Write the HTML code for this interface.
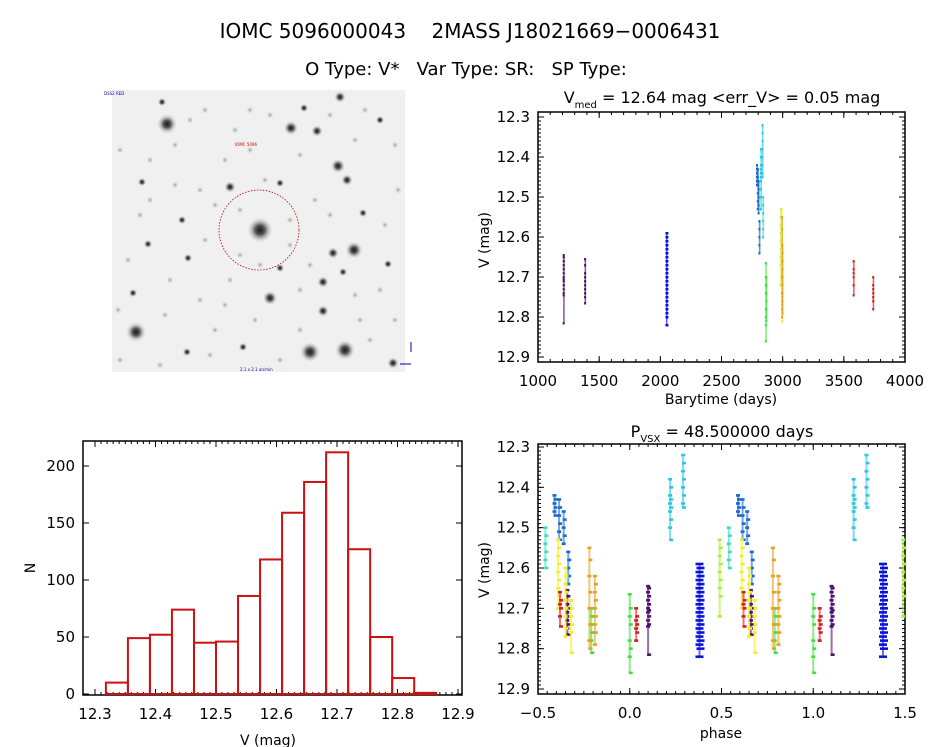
<!DOCTYPE html>
<html><head><meta charset="utf-8">
<style>
body{margin:0;background:#fff;}
svg{display:block;font-family:"DejaVu Sans","Liberation Sans",sans-serif;}
text{white-space:pre;}
</style></head>
<body>
<svg id="fig" width="944" height="747" viewBox="0 0 944 747">
<text x="470" y="38" text-anchor="middle" font-size="20" xml:space="preserve">IOMC 5096000043    2MASS J18021669−0006431</text>
<text x="466" y="75" text-anchor="middle" font-size="18" xml:space="preserve">O Type: V*   Var Type: SR:   SP Type:</text>
<g id="img"></g>
<g id="lc"></g>
<g id="hist"></g>
<g id="ph"></g>
</svg>
<script>
// ---------- data ----------
const histEdges0 = 12.318;
const histBinWidth = 0.0364;
const histCounts = [10,49,52,74,45,46,86,118,159,186,212,127,50,14,1];
const histXTicks = [12.3,12.4,12.5,12.6,12.7,12.8,12.9];
const histYTicks = [0,50,100,150,200];
const lcXTicks = [1000,1500,2000,2500,3000,3500,4000];
const magTicks = [12.3,12.4,12.5,12.6,12.7,12.8,12.9];
const phTicks = [-0.5,0.0,0.5,1.0,1.5];
const groupTimes = [1210,1385,2050,2790,2797,2803,2810,2822,2835,2840,2862,2866,2985,2990,2993,2996,2995,2998,3580,3740];
const groupPhases = [0.10,-0.34,0.38,-0.41,-0.385,-0.36,-0.335,0.22,0.29,-0.46,0.0,-0.21,0.49,-0.39,-0.35,-0.32,-0.22,-0.19,-0.38,0.035];
const groupColors = ['#50106e','#50106e','#0a14d8','#1a6ad0','#1a6ad0','#1a6ad0','#1a6ad0','#28c8e8','#28c8e8','#30e0c0','#40e040','#40e040','#a8f030','#f0f020','#f0f020','#f0f020','#e8a020','#e8a020','#d82020','#d82020'];
const groupMags = [
 [12.645,12.65,12.66,12.67,12.68,12.69,12.70,12.705,12.71,12.72,12.73,12.74,12.745,12.815],
 [12.655,12.67,12.69,12.70,12.71,12.72,12.73,12.74,12.75,12.765],
 [12.59,12.60,12.61,12.62,12.63,12.64,12.65,12.66,12.67,12.68,12.69,12.70,12.71,12.72,12.73,12.74,12.75,12.76,12.77,12.78,12.79,12.80,12.82],
 [12.42,12.43,12.44,12.45,12.46,12.47],
 [12.43,12.45,12.47,12.49,12.51,12.53],
 [12.46,12.48,12.50,12.52,12.54],
 [12.56,12.58,12.60,12.62,12.64],
 [12.38,12.40,12.42,12.43,12.44,12.45,12.46,12.48,12.50,12.53],
 [12.32,12.34,12.36,12.38,12.40,12.42,12.44,12.45],
 [12.50,12.52,12.54,12.56,12.58,12.60],
 [12.665,12.70,12.72,12.74,12.78,12.80,12.82,12.86],
 [12.70,12.72,12.74,12.76,12.78,12.81],
 [12.53,12.55,12.57,12.59,12.61,12.63,12.65,12.67,12.72],
 [12.53,12.55,12.57,12.59,12.61,12.63,12.65,12.67,12.70],
 [12.60,12.62,12.64,12.66,12.68,12.70,12.72,12.75,12.77],
 [12.68,12.70,12.72,12.74,12.76,12.81],
 [12.55,12.58,12.62,12.66,12.70,12.74,12.78,12.80],
 [12.62,12.64,12.66,12.68,12.70,12.72,12.74,12.76,12.79],
 [12.66,12.68,12.69,12.70,12.72,12.745],
 [12.70,12.72,12.73,12.74,12.75,12.76,12.78]
];
const stars = [[167,124,7],[291,128,5],[340,97,4],[338,166,5],[354,250,6],[136,332,7],[310,352,7],[345,350,7],[270,298,5],[260,230,9],[162,102,3],[317,131,4],[347,180,4],[230,187,4],[323,282,4],[333,253,4],[343,272,3],[323,311,4],[393,363,4],[280,268,3],[142,182,3],[182,220,3],[188,258,3],[148,244,3],[133,293,3],[243,347,3],[187,352,3],[280,183,3],[304,108,3],[380,120,3],[388,264,3],[363,213,3],[190,120,2],[225,160,2],[250,150,2],[200,300,2],[215,330,2],[300,330,2],[360,320,2],[380,290,2],[150,200,2],[120,150,2],[170,280,2],[230,280,2],[315,200,2],[250,110,2],[355,140,2],[290,220,2],[200,190,2],[128,260,2],[205,110,2],[270,115,2],[330,115,2],[365,110,2],[395,145,2],[140,215,2],[175,185,2],[205,240,2],[240,210,2],[290,245,2],[300,290,2],[255,320,2],[225,305,2],[165,315,2],[120,360,2],[160,365,2],[280,360,2],[370,340,2],[395,320,2],[385,225,2],[355,295,2],[310,265,2],[260,265,2],[215,205,2],[265,180,2],[235,130,2],[300,155,2],[330,215,2],[175,145,2],[150,160,2],[398,190,2],[118,310,2],[210,355,2],[240,255,2]];

const NS='http://www.w3.org/2000/svg';
function mk(p,tag,at,txt){const e=document.createElementNS(NS,tag);for(const k in at)e.setAttribute(k,at[k]);if(txt!==undefined)e.textContent=txt;p.appendChild(e);return e;}

// ---------- sky image ----------
const img=document.getElementById('img');
const defs=mk(img,'defs',{});
const rg=mk(defs,'radialGradient',{id:'sg'});
mk(rg,'stop',{offset:'0','stop-color':'#1a1a1a'});
mk(rg,'stop',{offset:'0.35','stop-color':'#555'});
mk(rg,'stop',{offset:'1','stop-color':'#eeeeee','stop-opacity':'0'});
const rg2=mk(defs,'radialGradient',{id:'sg2'});
mk(rg2,'stop',{offset:'0','stop-color':'#999'});
mk(rg2,'stop',{offset:'1','stop-color':'#eeeeee','stop-opacity':'0'});
let bg=mk(img,'rect',{x:112,y:90,width:293,height:282,fill:'#f0f0f0'});


stars.forEach(s=>{
  const c=mk(img,'circle',{cx:s[0],cy:s[1],r:s[2]<=2?4:s[2]*1.5,fill:s[2]<=2?'url(#sg2)':'url(#sg)'});
  
  
});
let ring=mk(img,'circle',{cx:259,cy:230,r:40,fill:'none',stroke:'#b00','stroke-width':0.8,'stroke-dasharray':'1.5,1.5'});


mk(img,'text',{x:235,y:146,'font-size':4,fill:'#c00'},'IOMC 5096');
mk(img,'text',{x:104,y:95,'font-size':4,fill:'#00a'},'DSS2 RED');
mk(img,'text',{x:240,y:371,'font-size':4,fill:'#00a'},'2.1 x 2.1 arcmin');
mk(img,'line',{x1:411,y1:342,x2:411,y2:352,stroke:'#00a'});
mk(img,'line',{x1:400,y1:364,x2:411,y2:364,stroke:'#00a'});

// ---------- axis helper ----------
function axes(g,L,R,T,B,xt,xs,xfmt,yt,ys,yfmt,xminor,yminor){
  mk(g,'rect',{x:L,y:T,width:R-L,height:B-T,fill:'none',stroke:'#000','stroke-width':1.5});
  xt.forEach(v=>{const x=xs(v);
    mk(g,'line',{x1:x,y1:B,x2:x,y2:B-6,stroke:'#000'});mk(g,'line',{x1:x,y1:T,x2:x,y2:T+6,stroke:'#000'});
    const t=mk(g,'text',{x:x,y:B+24,'text-anchor':'middle','font-size':15},xfmt(v));
    
    });
  yt.forEach(v=>{const y=ys(v);
    mk(g,'line',{x1:L,y1:y,x2:L+6,y2:y,stroke:'#000'});mk(g,'line',{x1:R,y1:y,x2:R-6,y2:y,stroke:'#000'});
    const t=mk(g,'text',{x:L-8,y:y+5,'text-anchor':'end','font-size':15},yfmt(v));
    
    });
  xminor.forEach(v=>{const x=xs(v);mk(g,'line',{x1:x,y1:B,x2:x,y2:B-3,stroke:'#000'});mk(g,'line',{x1:x,y1:T,x2:x,y2:T+3,stroke:'#000'});});
  yminor.forEach(v=>{const y=ys(v);mk(g,'line',{x1:L,y1:y,x2:L+3,y2:y,stroke:'#000'});mk(g,'line',{x1:R,y1:y,x2:R-3,y2:y,stroke:'#000'});});
}
function range(a,b,s){const r=[];for(let v=a;v<=b+1e-9;v+=s)r.push(+v.toFixed(4));return r;}

// ---------- light curve ----------
const lc=document.getElementById('lc');
const lxs=v=>538+(v-1000)/3000*367, lys=v=>117+(v-12.3)/0.6*240;
axes(lc,538,905,112,362,lcXTicks,lxs,v=>String(v),magTicks,lys,v=>v.toFixed(1),range(1000,4000,100),range(12.3,12.9,0.01));
let t1=mk(lc,'text',{x:722,y:103,'text-anchor':'middle','font-size':16},'');


t1.innerHTML='V<tspan font-size="10" dy="5">med</tspan><tspan dy="-5"> = 12.64 mag &lt;err_V&gt; = 0.05 mag</tspan>';
let lx=mk(lc,'text',{x:721,y:404,'text-anchor':'middle','font-size':14},'Barytime (days)');

let ly=mk(lc,'text',{x:0,y:0,'text-anchor':'middle','font-size':14,transform:'translate(489,240) rotate(-90)'},'V (mag)');

groupMags.forEach((ms,gi)=>{ms.forEach(m=>{
  const p=mk(lc,'rect',{x:lxs(groupTimes[gi])-1,y:lys(m)-1,width:gi===2?3:2,height:2.5,fill:groupColors[gi]});
  
  
});
  const lo=Math.min(...ms),hi=Math.max(...ms);
  const seg=mk(lc,'rect',{x:lxs(groupTimes[gi])-0.5,y:lys(lo),width:1.5,height:lys(hi)-lys(lo),fill:groupColors[gi],opacity:0.7});
  
  
});

// ---------- histogram ----------
const hg=document.getElementById('hist');
const hxs=v=>95+(v-12.3)/0.6*363, hys=v=>694-v/200*228;
axes(hg,83,462,441,695,histXTicks,hxs,v=>v.toFixed(1),histYTicks,hys,v=>String(v),range(12.3,12.9,0.01),[]);
histCounts.forEach((c,i)=>{
  const x0=hxs(histEdges0+i*histBinWidth),x1=hxs(histEdges0+(i+1)*histBinWidth);
  const b=mk(hg,'rect',{x:x0,y:hys(c),width:x1-x0,height:hys(0)-hys(c),fill:'none',stroke:'#cc1111','stroke-width':2});
  
  
});
let hx=mk(hg,'text',{x:268,y:745,'text-anchor':'middle','font-size':14},'V (mag)');

let hy=mk(hg,'text',{x:0,y:0,'text-anchor':'middle','font-size':14,transform:'translate(35,568) rotate(-90)'},'N');


// ---------- phase ----------
const ph=document.getElementById('ph');
const pxs=v=>538+(v+0.5)/2*367, pys=v=>447+(v-12.3)/0.6*242;
axes(ph,538,905,444,694,phTicks,pxs,v=>v.toFixed(1).replace('-','−'),magTicks,pys,v=>v.toFixed(1),range(-0.5,1.5,0.05),range(12.3,12.9,0.01));
let t2=mk(ph,'text',{x:722,y:437,'text-anchor':'middle','font-size':16},'');

t2.innerHTML='P<tspan font-size="10" dy="5">VSX</tspan><tspan dy="-5"> = 48.500000 days</tspan>';
let px=mk(ph,'text',{x:721,y:738,'text-anchor':'middle','font-size':14},'phase');

let py=mk(ph,'text',{x:0,y:0,'text-anchor':'middle','font-size':14,transform:'translate(489,570) rotate(-90)'},'V (mag)');

groupMags.forEach((ms,gi)=>{
  [groupPhases[gi],groupPhases[gi]+1].forEach(p=>{
    if(p<-0.5||p>1.5)return;
    const w=gi===2?8:4;
    const lo=Math.min(...ms),hi=Math.max(...ms);
    const seg=mk(ph,'rect',{x:pxs(p)-1,y:pys(lo),width:2,height:pys(hi)-pys(lo),fill:groupColors[gi],opacity:0.6});
    
    
    ms.forEach((m,k)=>{
      const q=mk(ph,'rect',{x:pxs(p)-w/2+(k%2)*1,y:pys(m)-1.3,width:w,height:2.6,fill:groupColors[gi]});
      
      
    });
  });
});
</script>
</body></html>
